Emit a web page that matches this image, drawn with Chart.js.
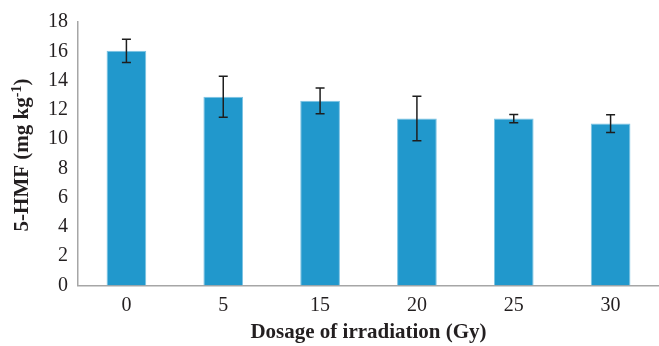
<!DOCTYPE html>
<html>
<head>
<meta charset="utf-8">
<script src="https://cdn.jsdelivr.net/npm/chart.js@4.4.0/dist/chart.umd.min.js"></script>
<style>
  html, body { margin: 0; padding: 0; background: #fff; }
  #wrap { width: 659px; height: 346px; }
</style>
</head>
<body>
<div id="wrap"><canvas id="grafico"></canvas></div>
<script>
// datos
const dosis   = ['0', '5', '15', '20', '25', '30'];
const hmf     = [16.03, 12.9, 12.62, 11.4, 11.4, 11.06];
const errores = [0.8, 1.4, 0.88, 1.52, 0.28, 0.6];
const ticksY  = [0, 2, 4, 6, 8, 10, 12, 14, 16, 18];

const FUENTE = '"Liberation Serif", "Times New Roman", serif';

// barras de error + títulos de ejes
const extras = {
  id: 'extras',
  afterDatasetsDraw(chart) {
    const ctx = chart.ctx;
    const y = chart.scales.y;
    const meta = chart.getDatasetMeta(0);
    ctx.save();
    ctx.strokeStyle = '#1e1e1e';
    ctx.lineWidth = 1.5;
    meta.data.forEach((bar, i) => {
      const x = bar.x;
      const yt = y.getPixelForValue(hmf[i] + errores[i]);
      const yb = y.getPixelForValue(hmf[i] - errores[i]);
      ctx.beginPath();
      ctx.moveTo(x, yt); ctx.lineTo(x, yb);
      ctx.moveTo(x - 4.5, yt); ctx.lineTo(x + 4.5, yt);
      ctx.moveTo(x - 4.5, yb); ctx.lineTo(x + 4.5, yb);
      ctx.stroke();
    });
    ctx.restore();
  },
  afterDraw(chart) {
    const ctx = chart.ctx;
    const area = chart.chartArea;
    ctx.save();
    ctx.fillStyle = '#231f20';
    // título eje X
    ctx.font = 'bold 21px ' + FUENTE;
    ctx.textAlign = 'center';
    ctx.textBaseline = 'middle';
    ctx.fillText('Dosage of irradiation (Gy)', (area.left + area.right) / 2, 333);
    // título eje Y con superíndice
    ctx.translate(23, 155);
    ctx.rotate(-Math.PI / 2);
    const base = '5-HMF (mg kg';
    const sup = '-1';
    const cierre = ')';
    ctx.font = 'bold 21px ' + FUENTE;
    const wBase = ctx.measureText(base).width;
    const wCierre = ctx.measureText(cierre).width;
    ctx.font = 'bold 14px ' + FUENTE;
    const wSup = ctx.measureText(sup).width;
    let x0 = -(wBase + wSup + wCierre) / 2;
    ctx.textAlign = 'left';
    ctx.font = 'bold 21px ' + FUENTE;
    ctx.fillText(base, x0, 0);
    ctx.font = 'bold 14px ' + FUENTE;
    ctx.fillText(sup, x0 + wBase, -6);
    ctx.font = 'bold 21px ' + FUENTE;
    ctx.fillText(cierre, x0 + wBase + wSup, 0);
    ctx.restore();
  }
};

const ctx = document.getElementById('grafico').getContext('2d');
new Chart(ctx, {
  type: 'bar',
  data: {
    labels: dosis,
    datasets: [{
      data: hmf,
      backgroundColor: '#2198cc',
      borderColor: '#7cc3e3',
      borderWidth: { left: 1, right: 1, top: 1, bottom: 0 },
      categoryPercentage: 1,
      barPercentage: 0.41
    }]
  },
  options: {
    responsive: true,
    maintainAspectRatio: false,
    animation: false,
    layout: { padding: { top: 21.5, right: 0, left: 0, bottom: 0 } },
    plugins: { legend: { display: false }, tooltip: { enabled: false } },
    scales: {
      x: {
        grid: { display: false, drawTicks: false },
        border: { color: '#a6a6a6', width: 1.5 },
        ticks: { color: '#231f20', font: { family: FUENTE, size: 20 }, padding: 8 },
        afterFit(s) { s.height = 60.5; }
      },
      y: {
        min: 0, max: 18,
        afterBuildTicks(s) { s.ticks = ticksY.map(v => ({ value: v })); },
        grid: { display: false, drawTicks: false },
        border: { color: '#a6a6a6', width: 1.5 },
        ticks: { color: '#231f20', font: { family: FUENTE, size: 20 }, padding: 10 },
        afterFit(s) { s.width = 78; }
      }
    }
  },
  plugins: [extras]
});
</script>
</body>
</html>
